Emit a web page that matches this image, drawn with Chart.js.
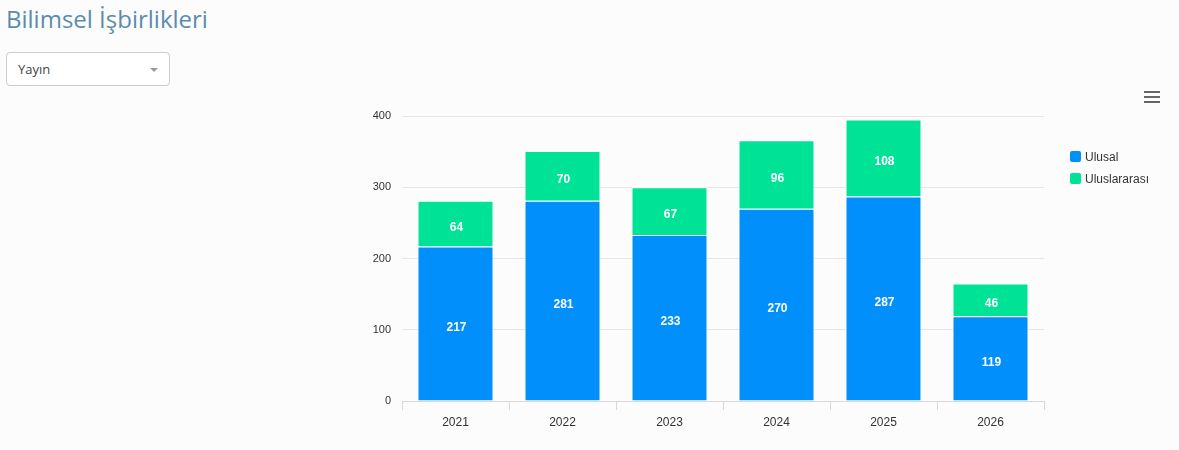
<!DOCTYPE html>
<html lang="tr">
<head>
  <meta charset="UTF-8">
  <title>Bilimsel İşbirlikleri</title>
  <script src="https://cdn.jsdelivr.net/npm/chart.js"></script>
  <style>
    body {
      margin: 0;
      background: #fcfcfc;
      font-family: "Open Sans", sans-serif;
      width: 1179px;
      height: 450px;
      position: relative;
      overflow: hidden;
    }
    h1 {
      position: absolute;
      left: 6px;
      top: 2px;
      margin: 0;
      font-size: 24px;
      font-weight: normal;
      color: #5b8cad;
    }
    .select {
      position: absolute;
      left: 6px;
      top: 52px;
      width: 162px;
      height: 32px;
      border: 1px solid #ccc;
      border-radius: 4px;
      background: #fff;
      box-sizing: content-box;
    }
    .select span {
      position: absolute;
      left: 11px;
      top: 7px;
      font-size: 13px;
      color: #444;
    }
    .select i {
      position: absolute;
      left: 143px;
      top: 15px;
      border-left: 4px solid transparent;
      border-right: 4px solid transparent;
      border-top: 4px solid #999;
    }
    .menu {
      position: absolute;
      left: 1144px;
      top: 91px;
      width: 16px;
    }
    .menu div {
      height: 2px;
      background: #666;
      margin-bottom: 3px;
    }
    #wrap {
      position: absolute;
      left: 330px;
      top: 90px;
      width: 849px;
      height: 360px;
    }
  </style>
</head>
<body>
  <h1>Bilimsel İşbirlikleri</h1>
  <div class="select"><span>Yayın</span><i></i></div>
  <div class="menu"><div></div><div></div><div></div></div>

  <div id="wrap">
    <canvas id="chart"></canvas>
  </div>

  <script>
    const years = ['2021', '2022', '2023', '2024', '2025', '2026'];
    const ulusal = [217, 281, 233, 270, 287, 119];
    const uluslararasi = [64, 70, 67, 96, 108, 46];

    // değerleri segmentin ortasına yaz
    const valueLabels = {
      id: 'valueLabels',
      afterDatasetsDraw(chart) {
        const ctx = chart.ctx;
        ctx.save();
        ctx.font = 'bold 12px "Liberation Sans", Arial, sans-serif';
        ctx.fillStyle = '#fff';
        ctx.textAlign = 'center';
        ctx.textBaseline = 'middle';
        chart.data.datasets.forEach((ds, i) => {
          chart.getDatasetMeta(i).data.forEach((bar, j) => {
            const mid = (bar.y + bar.base) / 2 + 4;
            ctx.fillText(ds.data[j], bar.x + 1, mid);
          });
        });
        ctx.restore();
      }
    };

    // sağdaki lejant
    const sideLegend = {
      id: 'sideLegend',
      afterDraw(chart) {
        const ctx = chart.ctx;
        ctx.save();
        ctx.font = '12px "Liberation Sans", Arial, sans-serif';
        ctx.textBaseline = 'middle';
        chart.data.datasets.forEach((ds, i) => {
          const x = 740, y = 67 + i * 22;
          ctx.fillStyle = ds.backgroundColor;
          ctx.beginPath();
          ctx.roundRect(x, y - 6, 11, 11, 2);
          ctx.fill();
          ctx.fillStyle = '#333';
          ctx.fillText(ds.label, x + 15, y + 1);
        });
        ctx.restore();
      }
    };

    new Chart(document.getElementById('chart'), {
      type: 'bar',
      data: {
        labels: years,
        datasets: [{
          label: 'Ulusal',
          data: ulusal,
          backgroundColor: '#008ffb',
          borderColor: '#fff',
          borderWidth: 1
        }, {
          label: 'Uluslararası',
          data: uluslararasi,
          backgroundColor: '#00e396',
          borderColor: '#fff',
          borderWidth: 1
        }]
      },
      options: {
        responsive: true,
        maintainAspectRatio: false,
        animation: false,
        layout: { padding: { left: 40, top: 26, right: 135, bottom: 0 } },
        datasets: { bar: { barPercentage: 0.71, categoryPercentage: 1 } },
        plugins: {
          legend: { display: false },
          tooltip: { enabled: false }
        },
        scales: {
          x: {
            stacked: true,
            afterFit: s => { s.height = 49; },
            grid: { drawOnChartArea: false, drawTicks: true, tickLength: 9, color: '#d8d8d8' },
            border: { color: '#d8d8d8' },
            ticks: { padding: 5, color: '#333', font: { size: 12, family: '"Liberation Sans", Arial, sans-serif' } }
          },
          y: {
            stacked: true,
            min: 0,
            max: 400,
            afterFit: s => { s.width = 32; },
            grid: { color: '#e6e6e6', drawTicks: false },
            border: { display: false },
            ticks: { stepSize: 100, padding: 11, color: '#333', font: { size: 11, family: '"Liberation Sans", Arial, sans-serif' } }
          }
        }
      },
      plugins: [valueLabels, sideLegend]
    });
  </script>
</body>
</html>
